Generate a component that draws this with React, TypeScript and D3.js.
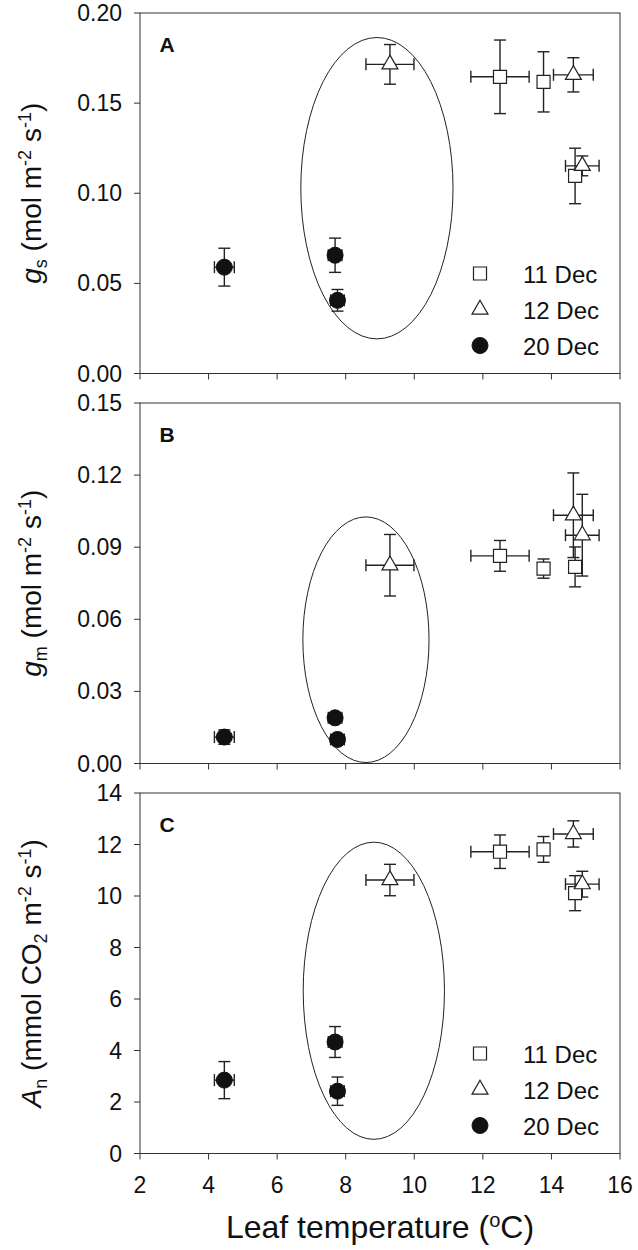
import React from "react";
import * as d3 from "d3";

// ---- data ----
const dates = ["11 Dec", "12 Dec", "20 Dec"];
const symbols = ["square", "triangle", "circle"];

// leaf temperature (°C) and its error, per date (shared across panels)
const temp11 = [12.5, 13.77, 14.69];
const temp11Err = [0.85, 0.1, 0.15];
const temp12 = [9.29, 14.64, 14.9];
const temp12Err = [0.7, 0.58, 0.49];
const temp20 = [4.46, 7.69, 7.76];
const temp20Err = [0.29, 0.2, 0.2];

// panel A: gs
const gs11 = [0.1646, 0.1618, 0.1096];
const gs11Err = [0.0204, 0.0167, 0.0154];
const gs12 = [0.1715, 0.1657, 0.1152];
const gs12Err = [0.011, 0.0095, 0.0055];
const gs20 = [0.059, 0.0656, 0.0406];
const gs20Err = [0.0105, 0.0095, 0.006];

// panel B: gm
const gm11 = [0.0864, 0.0811, 0.0818];
const gm11Err = [0.0064, 0.004, 0.0083];
const gm12 = [0.0825, 0.1033, 0.095];
const gm12Err = [0.0128, 0.0176, 0.017];
const gm20 = [0.011, 0.019, 0.01];
const gm20Err = [0.003, 0.002, 0.002];

// panel C: An
const an11 = [11.72, 11.81, 10.11];
const an11Err = [0.65, 0.5, 0.68];
const an12 = [10.62, 12.41, 10.46];
const an12Err = [0.61, 0.51, 0.5];
const an20 = [2.85, 4.33, 2.42];
const an20Err = [0.72, 0.6, 0.55];

// ellipses [cx, rx, cy, ry] in data units
const ellipseA = [8.91, 2.22, 0.1028, 0.0836];
const ellipseB = [8.59, 1.84, 0.0515, 0.0511];
const ellipseC = [8.82, 2.06, 6.32, 5.77];

const xTicks = [2, 4, 6, 8, 10, 12, 14, 16];
const yTicksA = [0, 0.05, 0.1, 0.15, 0.2];
const yTicksB = [0, 0.03, 0.06, 0.09, 0.12, 0.15];
const yTicksC = [0, 2, 4, 6, 8, 10, 12, 14];

// ---- layout ----
const W = 638;
const H = 1250;
const left = 140;
const right = 620;
const panelH = 360.5;
const tops = [13, 403, 793];
const FONT = "'Liberation Sans', Arial, sans-serif";

const x = d3.scaleLinear().domain([2, 16]).range([left, right]);

function marker(kind: string, cx: number, cy: number, key: string) {
  if (kind === "circle") {
    return <circle key={key} cx={cx} cy={cy} r={8} fill="#111" stroke="#111" />;
  }
  const type = kind === "square" ? d3.symbolSquare : d3.symbolTriangle;
  const size = kind === "square" ? 170 : 110;
  const p = d3.symbol().type(type).size(size)() as string;
  return (
    <path key={key} d={p} transform={`translate(${cx},${cy})`}
      fill="#fff" stroke="#222" strokeWidth={1.2} />
  );
}

type Series = { t: number[]; te: number[]; v: number[]; ve: number[] };

function Panel({ top, domain, ticks, fmt, series, ell, letter, legend }: {
  top: number; domain: [number, number]; ticks: number[]; fmt: (v: number) => string;
  series: Series[]; ell: number[]; letter: string; legend: boolean;
}) {
  const y = d3.scaleLinear().domain(domain).range([top + panelH, top]);
  const bottom = top + panelH;
  const cap = 6;
  const els: React.ReactNode[] = [];
  series.forEach((s, si) => {
    s.t.forEach((t, i) => {
      const cx = x(t), cy = y(s.v[i]);
      const x0 = x(t - s.te[i]), x1 = x(t + s.te[i]);
      const y0 = y(s.v[i] - s.ve[i]), y1 = y(s.v[i] + s.ve[i]);
      els.push(
        <g key={`e${si}-${i}`} stroke="#222" strokeWidth={1.4} fill="none">
          <line x1={cx} x2={cx} y1={y0} y2={y1} />
          <line x1={cx - cap} x2={cx + cap} y1={y0} y2={y0} />
          <line x1={cx - cap} x2={cx + cap} y1={y1} y2={y1} />
          <line x1={x0} x2={x1} y1={cy} y2={cy} />
          <line x1={x0} x2={x0} y1={cy - cap} y2={cy + cap} />
          <line x1={x1} x2={x1} y1={cy - cap} y2={cy + cap} />
        </g>
      );
    });
  });
  const marks: React.ReactNode[] = [];
  series.forEach((s, si) => {
    s.t.forEach((t, i) => {
      marks.push(marker(symbols[si], x(t), y(s.v[i]), `m${si}-${i}`));
    });
  });
  return (
    <g>
      <rect x={left} y={top} width={right - left} height={panelH} fill="none" stroke="#333" strokeWidth={1} />
      {xTicks.map((t) => (
        <line key={`xt${t}`} x1={x(t)} x2={x(t)} y1={bottom} y2={bottom + 6} stroke="#333" />
      ))}
      {ticks.map((t) => (
        <g key={`yt${t}`}>
          <line x1={left - 6} x2={left} y1={y(t)} y2={y(t)} stroke="#333" />
          <text x={left - 18} y={y(t) + 8} textAnchor="end" fontSize={23} fontFamily={FONT} fill="#111">
            {fmt(t)}
          </text>
        </g>
      ))}
      <ellipse cx={x(ell[0])} cy={y(ell[2])} rx={x(ell[0] + ell[1]) - x(ell[0])}
        ry={y(ell[2] - ell[3]) - y(ell[2])} fill="none" stroke="#222" strokeWidth={1} />
      {els}
      {marks}
      <text x={167} y={top + 39} textAnchor="middle" fontSize={21} fontWeight="bold" fontFamily={FONT} fill="#111">
        {letter}
      </text>
      {legend && dates.map((d, i) => {
        const ly = bottom - 100 + i * 36;
        return (
          <g key={d}>
            {marker(symbols[i], 480, ly, `lg${i}`)}
            <text x={523} y={ly + 9} fontSize={24} fontFamily={FONT} fill="#111">{d}</text>
          </g>
        );
      })}
    </g>
  );
}

export default function App() {
  const f2 = d3.format(".2f");
  const fd = d3.format("d");
  const sA: Series[] = [
    { t: temp11, te: temp11Err, v: gs11, ve: gs11Err },
    { t: temp12, te: temp12Err, v: gs12, ve: gs12Err },
    { t: temp20, te: temp20Err, v: gs20, ve: gs20Err },
  ];
  const sB: Series[] = [
    { t: temp11, te: temp11Err, v: gm11, ve: gm11Err },
    { t: temp12, te: temp12Err, v: gm12, ve: gm12Err },
    { t: temp20, te: temp20Err, v: gm20, ve: gm20Err },
  ];
  const sC: Series[] = [
    { t: temp11, te: temp11Err, v: an11, ve: an11Err },
    { t: temp12, te: temp12Err, v: an12, ve: an12Err },
    { t: temp20, te: temp20Err, v: an20, ve: an20Err },
  ];
  const TS = 28;
  const SS = 18;
  const unitTail = (
    <>
      <tspan dy={-SS * 0.55} fontSize={SS}>-2</tspan>
      <tspan dy={SS * 0.55}> s</tspan>
      <tspan dy={-SS * 0.55} fontSize={SS}>-1</tspan>
      <tspan dy={SS * 0.55}>)</tspan>
    </>
  );
  const bottomC = tops[2] + panelH;
  return (
    <svg width={W} height={H} style={{ position: "absolute", left: 0, top: 0, background: "#fff" }}>
      <Panel top={tops[0]} domain={[0, 0.2]} ticks={yTicksA} fmt={f2} series={sA} ell={ellipseA} letter="A" legend={true} />
      <Panel top={tops[1]} domain={[0, 0.15]} ticks={yTicksB} fmt={f2} series={sB} ell={ellipseB} letter="B" legend={false} />
      <Panel top={tops[2]} domain={[0, 14]} ticks={yTicksC} fmt={fd} series={sC} ell={ellipseC} letter="C" legend={true} />
      {xTicks.map((t) => (
        <text key={`xl${t}`} x={x(t)} y={bottomC + 39} textAnchor="middle" fontSize={23} fontFamily={FONT} fill="#111">
          {t}
        </text>
      ))}
      <text x={380} y={1238} textAnchor="middle" fontSize={32} fontFamily={FONT} fill="#111">
        Leaf temperature (<tspan fontSize={20} dy={-11}>o</tspan><tspan dy={11}>C)</tspan>
      </text>
      <text transform={`translate(41,${tops[0] + panelH / 2}) rotate(-90)`} textAnchor="middle" fontSize={TS} fontFamily={FONT} fill="#111">
        <tspan fontStyle="italic">g</tspan>
        <tspan fontSize={SS} dy={6}>s</tspan>
        <tspan dy={-6}> (mol m</tspan>
        {unitTail}
      </text>
      <text transform={`translate(41,${tops[1] + panelH / 2}) rotate(-90)`} textAnchor="middle" fontSize={TS} fontFamily={FONT} fill="#111">
        <tspan fontStyle="italic">g</tspan>
        <tspan fontSize={SS} dy={6}>m</tspan>
        <tspan dy={-6}> (mol m</tspan>
        {unitTail}
      </text>
      <text transform={`translate(41,${tops[2] + panelH / 2}) rotate(-90)`} textAnchor="middle" fontSize={TS} fontFamily={FONT} fill="#111">
        <tspan fontStyle="italic">A</tspan>
        <tspan fontSize={SS} dy={6}>n</tspan>
        <tspan dy={-6}> (mmol CO</tspan>
        <tspan fontSize={SS} dy={6}>2</tspan>
        <tspan dy={-6}> m</tspan>
        {unitTail}
      </text>
    </svg>
  );
}
